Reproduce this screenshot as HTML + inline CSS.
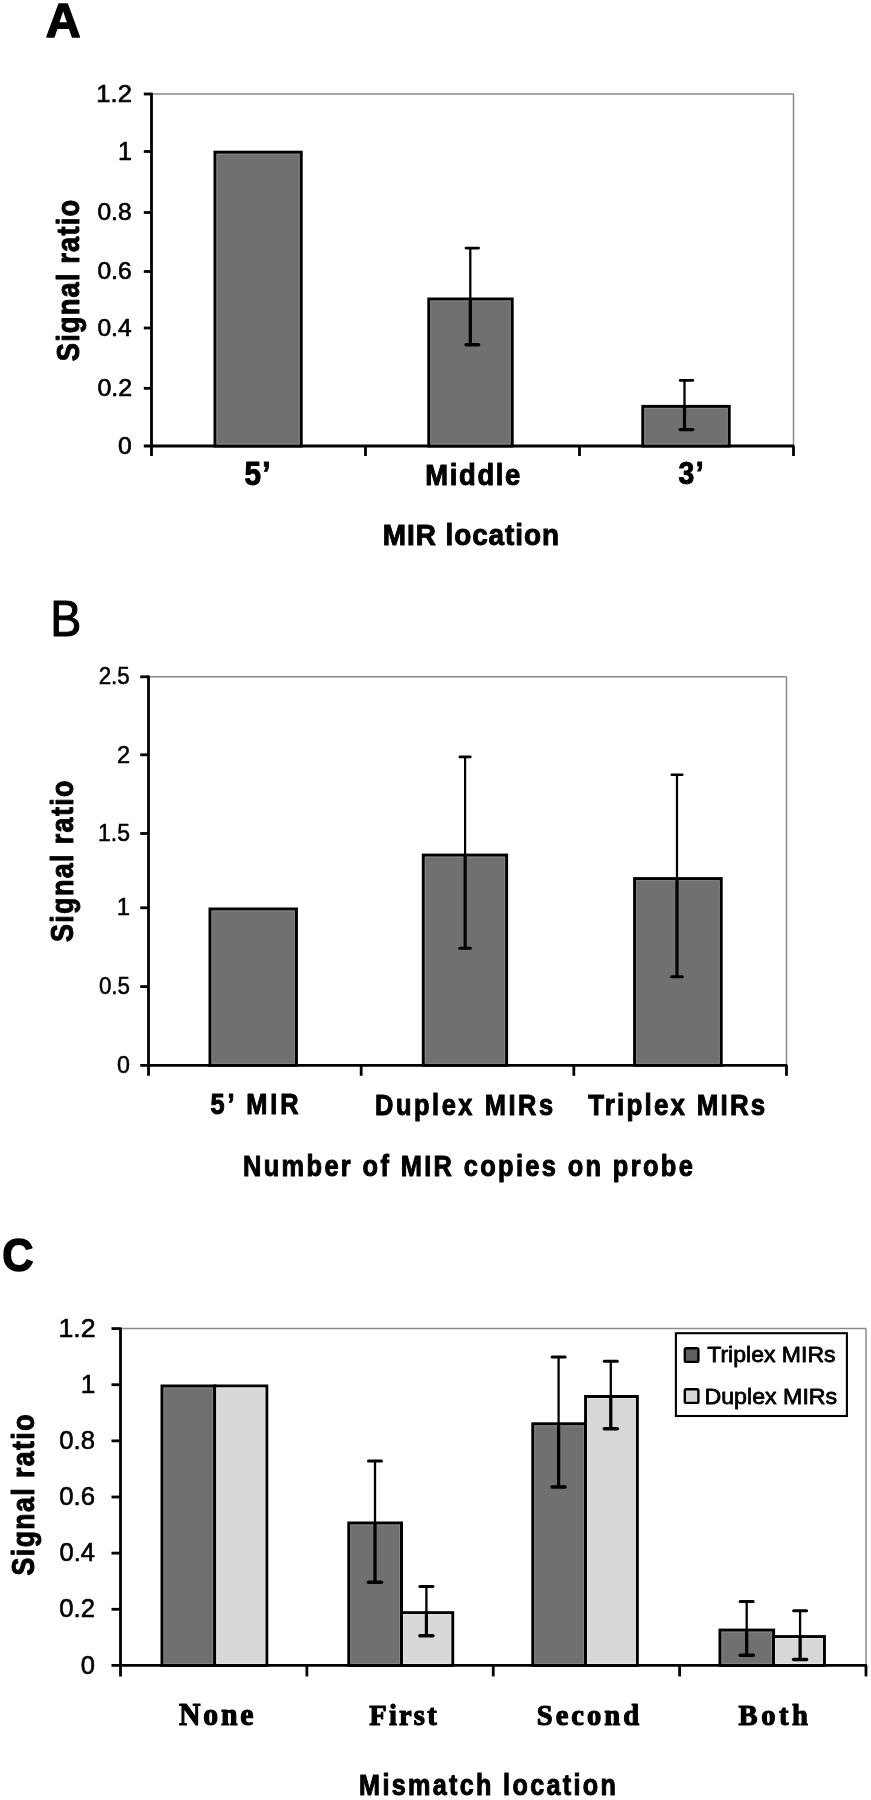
<!DOCTYPE html>
<html><head><meta charset="utf-8"><style>html,body{margin:0;padding:0;background:#fff;}svg{display:block;will-change:transform;}</style></head>
<body><svg width="871" height="1800" viewBox="0 0 871 1800"><rect width="871" height="1800" fill="#fff"/><line x1="151.50" y1="94.00" x2="793.50" y2="94.00" stroke="#8a8a8a" stroke-width="1.5"/><line x1="793.50" y1="94.00" x2="793.50" y2="446.00" stroke="#8a8a8a" stroke-width="1.5"/><line x1="151.50" y1="92.80" x2="151.50" y2="456.00" stroke="#000" stroke-width="2.8"/><line x1="143.80" y1="446.00" x2="794.30" y2="446.00" stroke="#000" stroke-width="2.8"/><line x1="143.80" y1="388.30" x2="151.50" y2="388.30" stroke="#000" stroke-width="2.8"/><line x1="143.80" y1="328.00" x2="151.50" y2="328.00" stroke="#000" stroke-width="2.8"/><line x1="143.80" y1="271.50" x2="151.50" y2="271.50" stroke="#000" stroke-width="2.8"/><line x1="143.80" y1="212.50" x2="151.50" y2="212.50" stroke="#000" stroke-width="2.8"/><line x1="143.80" y1="151.50" x2="151.50" y2="151.50" stroke="#000" stroke-width="2.8"/><line x1="143.80" y1="94.00" x2="151.50" y2="94.00" stroke="#000" stroke-width="2.8"/><line x1="365.50" y1="446.00" x2="365.50" y2="456.00" stroke="#000" stroke-width="2.8"/><line x1="579.50" y1="446.00" x2="579.50" y2="456.00" stroke="#000" stroke-width="2.8"/><line x1="793.50" y1="446.00" x2="793.50" y2="456.00" stroke="#000" stroke-width="2.8"/><rect x="215.00" y="152.20" width="86.20" height="293.80" fill="#707070" stroke="#000" stroke-width="3.0"/><rect x="217.00" y="154.20" width="82.20" height="289.80" fill="none" stroke="#858585" stroke-width="1"/><rect x="428.80" y="299.00" width="83.40" height="147.00" fill="#707070" stroke="#000" stroke-width="3.0"/><rect x="430.80" y="301.00" width="79.40" height="143.00" fill="none" stroke="#858585" stroke-width="1"/><rect x="642.80" y="406.40" width="86.40" height="39.60" fill="#707070" stroke="#000" stroke-width="3.0"/><rect x="644.80" y="408.40" width="82.40" height="35.60" fill="none" stroke="#858585" stroke-width="1"/><line x1="470.30" y1="248.10" x2="470.30" y2="344.80" stroke="#000" stroke-width="2.3"/><line x1="466.05" y1="248.10" x2="478.55" y2="248.10" stroke="#000" stroke-width="2.9" stroke-linecap="round"/><line x1="466.05" y1="344.80" x2="478.55" y2="344.80" stroke="#000" stroke-width="3.4" stroke-linecap="round"/><line x1="470.30" y1="298.00" x2="470.30" y2="344.80" stroke="#000" stroke-width="3.1999999999999997"/><line x1="684.50" y1="380.40" x2="684.50" y2="429.60" stroke="#000" stroke-width="2.3"/><line x1="680.25" y1="380.40" x2="692.75" y2="380.40" stroke="#000" stroke-width="2.9" stroke-linecap="round"/><line x1="680.25" y1="429.60" x2="692.75" y2="429.60" stroke="#000" stroke-width="3.4" stroke-linecap="round"/><line x1="684.50" y1="405.40" x2="684.50" y2="429.60" stroke="#000" stroke-width="3.1999999999999997"/><line x1="148.50" y1="676.80" x2="786.50" y2="676.80" stroke="#8a8a8a" stroke-width="1.5"/><line x1="786.50" y1="676.80" x2="786.50" y2="1065.30" stroke="#8a8a8a" stroke-width="1.5"/><line x1="148.50" y1="675.60" x2="148.50" y2="1075.80" stroke="#000" stroke-width="2.8"/><line x1="140.20" y1="1065.30" x2="787.30" y2="1065.30" stroke="#000" stroke-width="2.8"/><line x1="140.20" y1="986.60" x2="148.50" y2="986.60" stroke="#000" stroke-width="2.8"/><line x1="140.20" y1="907.80" x2="148.50" y2="907.80" stroke="#000" stroke-width="2.8"/><line x1="140.20" y1="833.50" x2="148.50" y2="833.50" stroke="#000" stroke-width="2.8"/><line x1="140.20" y1="754.80" x2="148.50" y2="754.80" stroke="#000" stroke-width="2.8"/><line x1="140.20" y1="676.80" x2="148.50" y2="676.80" stroke="#000" stroke-width="2.8"/><line x1="361.17" y1="1065.30" x2="361.17" y2="1075.80" stroke="#000" stroke-width="2.8"/><line x1="573.83" y1="1065.30" x2="573.83" y2="1075.80" stroke="#000" stroke-width="2.8"/><line x1="786.50" y1="1065.30" x2="786.50" y2="1075.80" stroke="#000" stroke-width="2.8"/><rect x="210.00" y="909.00" width="86.40" height="156.30" fill="#707070" stroke="#000" stroke-width="3.0"/><rect x="212.00" y="911.00" width="82.40" height="152.30" fill="none" stroke="#858585" stroke-width="1"/><rect x="423.30" y="855.10" width="83.30" height="210.20" fill="#707070" stroke="#000" stroke-width="3.0"/><rect x="425.30" y="857.10" width="79.30" height="206.20" fill="none" stroke="#858585" stroke-width="1"/><rect x="634.60" y="878.60" width="86.60" height="186.70" fill="#707070" stroke="#000" stroke-width="3.0"/><rect x="636.60" y="880.60" width="82.60" height="182.70" fill="none" stroke="#858585" stroke-width="1"/><line x1="465.10" y1="756.90" x2="465.10" y2="948.20" stroke="#000" stroke-width="2.2"/><line x1="459.85" y1="756.90" x2="470.35" y2="756.90" stroke="#000" stroke-width="2.6" stroke-linecap="round"/><line x1="459.85" y1="948.20" x2="470.35" y2="948.20" stroke="#000" stroke-width="3.1" stroke-linecap="round"/><line x1="465.10" y1="854.10" x2="465.10" y2="948.20" stroke="#000" stroke-width="3.1"/><line x1="677.00" y1="774.70" x2="677.00" y2="976.70" stroke="#000" stroke-width="2.2"/><line x1="671.75" y1="774.70" x2="682.25" y2="774.70" stroke="#000" stroke-width="2.6" stroke-linecap="round"/><line x1="671.75" y1="976.70" x2="682.25" y2="976.70" stroke="#000" stroke-width="3.1" stroke-linecap="round"/><line x1="677.00" y1="877.60" x2="677.00" y2="976.70" stroke="#000" stroke-width="3.1"/><line x1="120.50" y1="1328.60" x2="866.00" y2="1328.60" stroke="#8a8a8a" stroke-width="1.5"/><line x1="866.00" y1="1328.60" x2="866.00" y2="1665.40" stroke="#8a8a8a" stroke-width="1.5"/><line x1="120.50" y1="1327.40" x2="120.50" y2="1676.40" stroke="#000" stroke-width="2.8"/><line x1="111.50" y1="1665.40" x2="866.80" y2="1665.40" stroke="#000" stroke-width="2.8"/><line x1="111.50" y1="1609.27" x2="120.50" y2="1609.27" stroke="#000" stroke-width="2.8"/><line x1="111.50" y1="1553.13" x2="120.50" y2="1553.13" stroke="#000" stroke-width="2.8"/><line x1="111.50" y1="1497.00" x2="120.50" y2="1497.00" stroke="#000" stroke-width="2.8"/><line x1="111.50" y1="1440.87" x2="120.50" y2="1440.87" stroke="#000" stroke-width="2.8"/><line x1="111.50" y1="1384.73" x2="120.50" y2="1384.73" stroke="#000" stroke-width="2.8"/><line x1="111.50" y1="1328.60" x2="120.50" y2="1328.60" stroke="#000" stroke-width="2.8"/><line x1="306.88" y1="1665.40" x2="306.88" y2="1676.40" stroke="#000" stroke-width="2.8"/><line x1="493.25" y1="1665.40" x2="493.25" y2="1676.40" stroke="#000" stroke-width="2.8"/><line x1="679.62" y1="1665.40" x2="679.62" y2="1676.40" stroke="#000" stroke-width="2.8"/><line x1="866.00" y1="1665.40" x2="866.00" y2="1676.40" stroke="#000" stroke-width="2.8"/><rect x="162.00" y="1386.00" width="52.80" height="279.40" fill="#707070" stroke="#000" stroke-width="3.0"/><rect x="164.00" y="1388.00" width="48.80" height="275.40" fill="none" stroke="#858585" stroke-width="1"/><rect x="214.80" y="1386.00" width="52.00" height="279.40" fill="#d8d8d8" stroke="#000" stroke-width="3.0"/><rect x="216.80" y="1388.00" width="48.00" height="275.40" fill="none" stroke="#e6e6e6" stroke-width="1"/><rect x="348.80" y="1523.00" width="52.70" height="142.40" fill="#707070" stroke="#000" stroke-width="3.0"/><rect x="350.80" y="1525.00" width="48.70" height="138.40" fill="none" stroke="#858585" stroke-width="1"/><rect x="401.50" y="1612.70" width="51.20" height="52.70" fill="#d8d8d8" stroke="#000" stroke-width="3.0"/><rect x="403.50" y="1614.70" width="47.20" height="48.70" fill="none" stroke="#e6e6e6" stroke-width="1"/><rect x="532.80" y="1423.80" width="52.80" height="241.60" fill="#707070" stroke="#000" stroke-width="3.0"/><rect x="534.80" y="1425.80" width="48.80" height="237.60" fill="none" stroke="#858585" stroke-width="1"/><rect x="585.60" y="1396.50" width="51.70" height="268.90" fill="#d8d8d8" stroke="#000" stroke-width="3.0"/><rect x="587.60" y="1398.50" width="47.70" height="264.90" fill="none" stroke="#e6e6e6" stroke-width="1"/><rect x="720.00" y="1630.10" width="53.60" height="35.30" fill="#707070" stroke="#000" stroke-width="3.0"/><rect x="722.00" y="1632.10" width="49.60" height="31.30" fill="none" stroke="#858585" stroke-width="1"/><rect x="773.60" y="1636.60" width="50.80" height="28.80" fill="#d8d8d8" stroke="#000" stroke-width="3.0"/><rect x="775.60" y="1638.60" width="46.80" height="24.80" fill="none" stroke="#e6e6e6" stroke-width="1"/><line x1="375.00" y1="1460.90" x2="375.00" y2="1582.30" stroke="#000" stroke-width="2.3"/><line x1="368.50" y1="1460.90" x2="381.50" y2="1460.90" stroke="#000" stroke-width="3.0" stroke-linecap="round"/><line x1="368.50" y1="1582.30" x2="381.50" y2="1582.30" stroke="#000" stroke-width="3.5" stroke-linecap="round"/><line x1="375.00" y1="1522.00" x2="375.00" y2="1582.30" stroke="#000" stroke-width="3.1999999999999997"/><line x1="426.40" y1="1586.60" x2="426.40" y2="1635.80" stroke="#000" stroke-width="2.3"/><line x1="419.90" y1="1586.60" x2="432.90" y2="1586.60" stroke="#000" stroke-width="3.0" stroke-linecap="round"/><line x1="419.90" y1="1635.80" x2="432.90" y2="1635.80" stroke="#000" stroke-width="3.5" stroke-linecap="round"/><line x1="426.40" y1="1611.70" x2="426.40" y2="1635.80" stroke="#000" stroke-width="3.1999999999999997"/><line x1="558.60" y1="1356.90" x2="558.60" y2="1487.10" stroke="#000" stroke-width="2.3"/><line x1="552.10" y1="1356.90" x2="565.10" y2="1356.90" stroke="#000" stroke-width="3.0" stroke-linecap="round"/><line x1="552.10" y1="1487.10" x2="565.10" y2="1487.10" stroke="#000" stroke-width="3.5" stroke-linecap="round"/><line x1="558.60" y1="1422.80" x2="558.60" y2="1487.10" stroke="#000" stroke-width="3.1999999999999997"/><line x1="610.80" y1="1361.20" x2="610.80" y2="1428.70" stroke="#000" stroke-width="2.3"/><line x1="604.30" y1="1361.20" x2="617.30" y2="1361.20" stroke="#000" stroke-width="3.0" stroke-linecap="round"/><line x1="604.30" y1="1428.70" x2="617.30" y2="1428.70" stroke="#000" stroke-width="3.5" stroke-linecap="round"/><line x1="610.80" y1="1395.50" x2="610.80" y2="1428.70" stroke="#000" stroke-width="3.1999999999999997"/><line x1="746.70" y1="1601.60" x2="746.70" y2="1655.20" stroke="#000" stroke-width="2.3"/><line x1="740.20" y1="1601.60" x2="753.20" y2="1601.60" stroke="#000" stroke-width="3.0" stroke-linecap="round"/><line x1="740.20" y1="1655.20" x2="753.20" y2="1655.20" stroke="#000" stroke-width="3.5" stroke-linecap="round"/><line x1="746.70" y1="1629.10" x2="746.70" y2="1655.20" stroke="#000" stroke-width="3.1999999999999997"/><line x1="800.10" y1="1610.80" x2="800.10" y2="1659.50" stroke="#000" stroke-width="2.3"/><line x1="793.60" y1="1610.80" x2="806.60" y2="1610.80" stroke="#000" stroke-width="3.0" stroke-linecap="round"/><line x1="793.60" y1="1659.50" x2="806.60" y2="1659.50" stroke="#000" stroke-width="3.5" stroke-linecap="round"/><line x1="800.10" y1="1635.60" x2="800.10" y2="1659.50" stroke="#000" stroke-width="3.1999999999999997"/><rect x="675.9" y="1333.2" width="171.0" height="82.8" fill="#fff" stroke="#000" stroke-width="2.1"/><rect x="684.8" y="1348.3" width="13.6" height="13.6" rx="1.5" fill="#606060" stroke="#000" stroke-width="2.4"/><rect x="684.8" y="1389.3" width="13.6" height="13.6" rx="1.5" fill="#d8d8d8" stroke="#000" stroke-width="2.4"/><text transform="translate(45.78,36.72)" font-family="&quot;Liberation Sans&quot;, sans-serif" font-weight="bold" font-size="47.71" textLength="34.88" lengthAdjust="spacingAndGlyphs" stroke="#000" stroke-width="1.5" stroke-linejoin="round">A</text><text transform="translate(50.13,635.55)" font-family="&quot;Liberation Sans&quot;, sans-serif" font-weight="normal" font-size="49.04" textLength="31.08" lengthAdjust="spacingAndGlyphs" stroke="#000" stroke-width="1.0" stroke-linejoin="round">B</text><text transform="translate(2.25,1270.50)" font-family="&quot;Liberation Sans&quot;, sans-serif" font-weight="bold" font-size="46.15" textLength="31.28" lengthAdjust="spacingAndGlyphs" stroke="#000" stroke-width="1.5" stroke-linejoin="round">C</text><text transform="translate(118.00,453.88)" font-family="&quot;Liberation Sans&quot;, sans-serif" font-weight="normal" font-size="24.67" stroke="#000" stroke-width="0.7" stroke-linejoin="round">0</text><text transform="translate(97.42,396.18)" font-family="&quot;Liberation Sans&quot;, sans-serif" font-weight="normal" font-size="24.66" textLength="34.72" lengthAdjust="spacingAndGlyphs" stroke="#000" stroke-width="0.7" stroke-linejoin="round">0.2</text><text transform="translate(97.42,336.12)" font-family="&quot;Liberation Sans&quot;, sans-serif" font-weight="normal" font-size="24.66" textLength="34.18" lengthAdjust="spacingAndGlyphs" stroke="#000" stroke-width="0.7" stroke-linejoin="round">0.4</text><text transform="translate(97.42,279.38)" font-family="&quot;Liberation Sans&quot;, sans-serif" font-weight="normal" font-size="24.67" textLength="34.20" lengthAdjust="spacingAndGlyphs" stroke="#000" stroke-width="0.7" stroke-linejoin="round">0.6</text><text transform="translate(97.42,220.38)" font-family="&quot;Liberation Sans&quot;, sans-serif" font-weight="normal" font-size="24.67" textLength="34.20" lengthAdjust="spacingAndGlyphs" stroke="#000" stroke-width="0.7" stroke-linejoin="round">0.8</text><text transform="translate(118.00,159.50)" font-family="&quot;Liberation Sans&quot;, sans-serif" font-weight="normal" font-size="25.00" stroke="#000" stroke-width="0.7" stroke-linejoin="round">1</text><text transform="translate(96.30,102.12)" font-family="&quot;Liberation Sans&quot;, sans-serif" font-weight="normal" font-size="24.66" textLength="35.56" lengthAdjust="spacingAndGlyphs" stroke="#000" stroke-width="0.7" stroke-linejoin="round">1.2</text><text transform="translate(117.03,1072.67)" font-family="&quot;Liberation Sans&quot;, sans-serif" font-weight="normal" font-size="23.27" stroke="#000" stroke-width="0.5" stroke-linejoin="round">0</text><text transform="translate(98.92,993.98)" font-family="&quot;Liberation Sans&quot;, sans-serif" font-weight="normal" font-size="23.27" textLength="31.11" lengthAdjust="spacingAndGlyphs" stroke="#000" stroke-width="0.5" stroke-linejoin="round">0.5</text><text transform="translate(116.78,915.42)" font-family="&quot;Liberation Sans&quot;, sans-serif" font-weight="normal" font-size="23.96" stroke="#000" stroke-width="0.5" stroke-linejoin="round">1</text><text transform="translate(98.05,841.00)" font-family="&quot;Liberation Sans&quot;, sans-serif" font-weight="normal" font-size="23.61" textLength="31.97" lengthAdjust="spacingAndGlyphs" stroke="#000" stroke-width="0.5" stroke-linejoin="round">1.5</text><text transform="translate(117.03,762.55)" font-family="&quot;Liberation Sans&quot;, sans-serif" font-weight="normal" font-size="23.61" stroke="#000" stroke-width="0.5" stroke-linejoin="round">2</text><text transform="translate(98.67,684.17)" font-family="&quot;Liberation Sans&quot;, sans-serif" font-weight="normal" font-size="23.27" textLength="31.12" lengthAdjust="spacingAndGlyphs" stroke="#000" stroke-width="0.5" stroke-linejoin="round">2.5</text><text transform="translate(80.85,1673.60)" font-family="&quot;Liberation Sans&quot;, sans-serif" font-weight="normal" font-size="25.56" stroke="#000" stroke-width="0.6" stroke-linejoin="round">0</text><text transform="translate(59.30,1617.47)" font-family="&quot;Liberation Sans&quot;, sans-serif" font-weight="normal" font-size="25.56" textLength="35.77" lengthAdjust="spacingAndGlyphs" stroke="#000" stroke-width="0.6" stroke-linejoin="round">0.2</text><text transform="translate(59.43,1561.33)" font-family="&quot;Liberation Sans&quot;, sans-serif" font-weight="normal" font-size="25.56" textLength="35.49" lengthAdjust="spacingAndGlyphs" stroke="#000" stroke-width="0.6" stroke-linejoin="round">0.4</text><text transform="translate(59.30,1505.20)" font-family="&quot;Liberation Sans&quot;, sans-serif" font-weight="normal" font-size="25.56" textLength="35.77" lengthAdjust="spacingAndGlyphs" stroke="#000" stroke-width="0.6" stroke-linejoin="round">0.6</text><text transform="translate(59.30,1449.07)" font-family="&quot;Liberation Sans&quot;, sans-serif" font-weight="normal" font-size="25.56" textLength="35.76" lengthAdjust="spacingAndGlyphs" stroke="#000" stroke-width="0.6" stroke-linejoin="round">0.8</text><text transform="translate(80.85,1393.18)" font-family="&quot;Liberation Sans&quot;, sans-serif" font-weight="normal" font-size="26.26" stroke="#000" stroke-width="0.6" stroke-linejoin="round">1</text><text transform="translate(58.43,1337.17)" font-family="&quot;Liberation Sans&quot;, sans-serif" font-weight="normal" font-size="25.91" textLength="37.17" lengthAdjust="spacingAndGlyphs" stroke="#000" stroke-width="0.6" stroke-linejoin="round">1.2</text><text transform="translate(244.62,485.07) scale(0.92,1)" font-family="&quot;Liberation Sans&quot;, sans-serif" font-weight="bold" font-size="32.30" textLength="28.17" lengthAdjust="spacing" stroke="#000" stroke-width="1.0" stroke-linejoin="round">5’</text><text transform="translate(425.20,484.57) scale(0.92,1)" font-family="&quot;Liberation Sans&quot;, sans-serif" font-weight="bold" font-size="29.78" textLength="103.41" lengthAdjust="spacing" stroke="#000" stroke-width="1.0" stroke-linejoin="round">Middle</text><text transform="translate(678.48,484.28) scale(0.92,1)" font-family="&quot;Liberation Sans&quot;, sans-serif" font-weight="bold" font-size="30.82" textLength="27.35" lengthAdjust="spacing" stroke="#000" stroke-width="1.0" stroke-linejoin="round">3’</text><text transform="translate(382.75,545.25) scale(0.92,1)" font-family="&quot;Liberation Sans&quot;, sans-serif" font-weight="bold" font-size="30.39" textLength="191.68" lengthAdjust="spacing" stroke="#000" stroke-width="1.0" stroke-linejoin="round">MIR location</text><text transform="translate(78.85,361.22) rotate(-90) scale(0.85,1)" font-family="&quot;Liberation Sans&quot;, sans-serif" font-weight="bold" font-size="32.15" textLength="189.83" lengthAdjust="spacing" stroke="#000" stroke-width="1.0" stroke-linejoin="round">Signal ratio</text><text transform="translate(210.40,1114.42) scale(0.86,1)" font-family="&quot;Liberation Sans&quot;, sans-serif" font-weight="bold" font-size="29.52" textLength="102.56" lengthAdjust="spacing" stroke="#000" stroke-width="1.0" stroke-linejoin="round">5’ MIR</text><text transform="translate(374.98,1115.00) scale(0.86,1)" font-family="&quot;Liberation Sans&quot;, sans-serif" font-weight="bold" font-size="29.55" textLength="207.08" lengthAdjust="spacing" stroke="#000" stroke-width="1.0" stroke-linejoin="round">Duplex MIRs</text><text transform="translate(588.18,1114.62) scale(0.86,1)" font-family="&quot;Liberation Sans&quot;, sans-serif" font-weight="bold" font-size="30.14" textLength="205.88" lengthAdjust="spacing" stroke="#000" stroke-width="1.0" stroke-linejoin="round">Triplex MIRs</text><text transform="translate(243.00,1175.60) scale(0.86,1)" font-family="&quot;Liberation Sans&quot;, sans-serif" font-weight="bold" font-size="29.55" textLength="523.03" lengthAdjust="spacing" stroke="#000" stroke-width="1.0" stroke-linejoin="round">Number of MIR copies on probe</text><text transform="translate(72.73,942.03) rotate(-90) scale(0.85,1)" font-family="&quot;Liberation Sans&quot;, sans-serif" font-weight="bold" font-size="31.66" textLength="190.07" lengthAdjust="spacing" stroke="#000" stroke-width="1.0" stroke-linejoin="round">Signal ratio</text><text transform="translate(178.90,1725.43) scale(0.95,1)" font-family="&quot;Liberation Serif&quot;, serif" font-weight="bold" font-size="31.33" textLength="78.53" lengthAdjust="spacing" stroke="#000" stroke-width="1.2" stroke-linejoin="round">None</text><text transform="translate(369.35,1725.35) scale(0.95,1)" font-family="&quot;Liberation Serif&quot;, serif" font-weight="bold" font-size="30.04" textLength="70.85" lengthAdjust="spacing" stroke="#000" stroke-width="1.2" stroke-linejoin="round">First</text><text transform="translate(536.75,1725.25) scale(0.95,1)" font-family="&quot;Liberation Serif&quot;, serif" font-weight="bold" font-size="30.04" textLength="107.69" lengthAdjust="spacing" stroke="#000" stroke-width="1.2" stroke-linejoin="round">Second</text><text transform="translate(738.48,1725.32) scale(0.95,1)" font-family="&quot;Liberation Serif&quot;, serif" font-weight="bold" font-size="30.12" textLength="73.21" lengthAdjust="spacing" stroke="#000" stroke-width="1.2" stroke-linejoin="round">Both</text><text transform="translate(359.10,1795.45) scale(0.88,1)" font-family="&quot;Liberation Sans&quot;, sans-serif" font-weight="bold" font-size="28.61" textLength="291.85" lengthAdjust="spacing" stroke="#000" stroke-width="1.0" stroke-linejoin="round">Mismatch location</text><text transform="translate(33.53,1575.38) rotate(-90) scale(0.85,1)" font-family="&quot;Liberation Sans&quot;, sans-serif" font-weight="bold" font-size="31.34" textLength="189.24" lengthAdjust="spacing" stroke="#000" stroke-width="1.0" stroke-linejoin="round">Signal ratio</text><text transform="translate(707.25,1361.75)" font-family="&quot;Liberation Sans&quot;, sans-serif" font-weight="normal" font-size="22.73" textLength="128.31" lengthAdjust="spacingAndGlyphs" stroke="#000" stroke-width="0.8" stroke-linejoin="round">Triplex MIRs</text><text transform="translate(704.45,1403.75)" font-family="&quot;Liberation Sans&quot;, sans-serif" font-weight="normal" font-size="22.73" textLength="132.73" lengthAdjust="spacingAndGlyphs" stroke="#000" stroke-width="0.8" stroke-linejoin="round">Duplex MIRs</text></svg></body></html>
